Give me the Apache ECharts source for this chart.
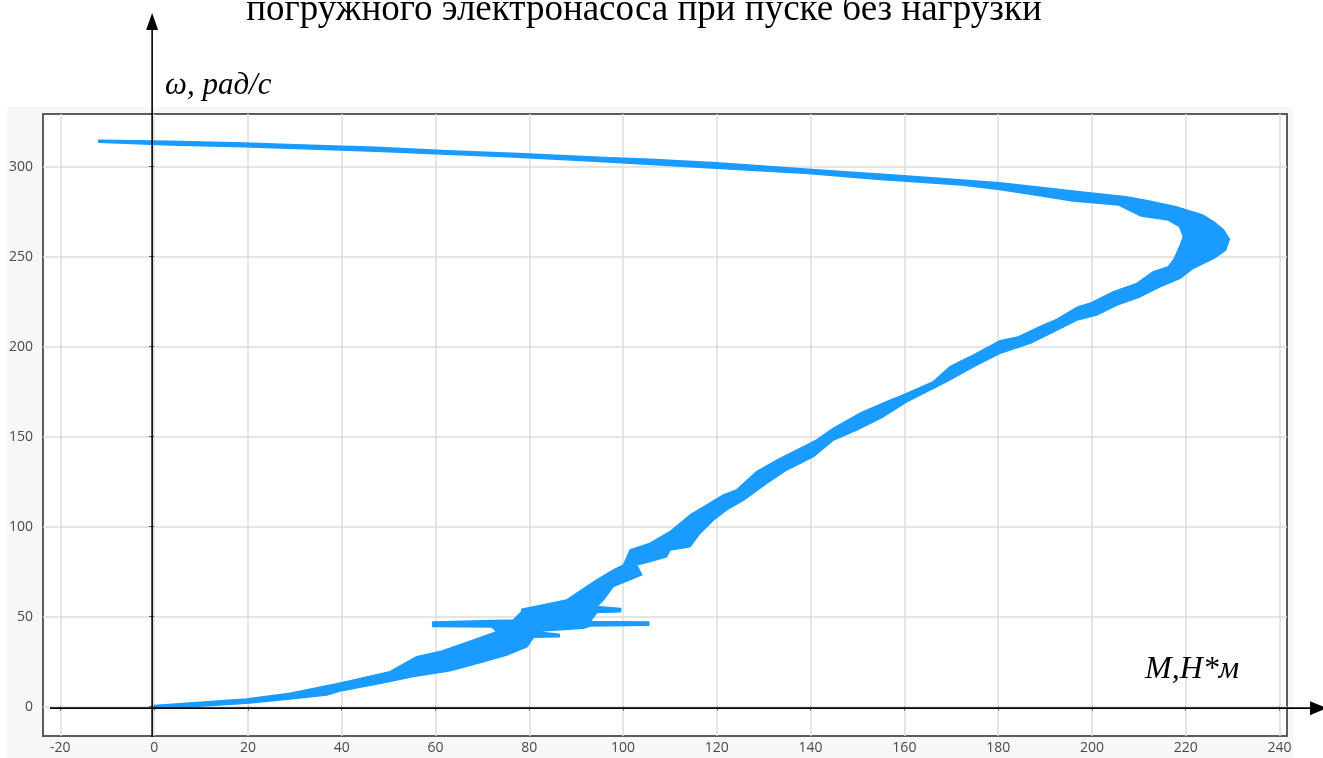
<!DOCTYPE html>
<html>
<head>
<meta charset="utf-8">
<script src="https://cdn.jsdelivr.net/npm/echarts@6/dist/echarts.min.js"></script>
<style>
  html, body { margin: 0; padding: 0; background: #ffffff; }
  #chart { width: 1323px; height: 758px; }
</style>
</head>
<body>
<div id="chart"></div>
<script>
// Mechanical characteristic of the submersible pump motor on a no-load start:
// torque M (N·m) against angular speed ω (rad/s). The simulated torque
// oscillates quickly, so the trace is stored as the two edges of its band.

// Inner edge of the band (towards the open side of the curve), from start to end
const innerM = [0, 19.7, 29, 40, 50.3, 56, 61, 68.1, 73.1, 72, 59.4, 59.4, 76.6, 78.4, 78.4, 88,
  94.4, 97.9, 100.1, 101.5, 105.8, 110, 114.3, 117.8, 121.4, 124.2, 128.5, 132.8, 138.5, 141.3,
  144.9, 150.5, 156.2, 160.5, 166.2, 169.7, 174, 180.4, 184, 188.9, 192.5, 196.8, 199.6, 204.6,
  209.6, 213.1, 216.3, 217.4, 217.9, 218.7, 219.5, 218.7, 216.3, 210.5, 205.7, 195.9, 189.3,
  180.3, 172.2, 154.2, 139.5, 119.9, 96, 77.7, 62.5, 47.3, 33.5, 19.1, 3.5, -11.8];
const innerW = [0.6, 4.3, 7.4, 13.3, 19.4, 27.8, 30.6, 37.1, 41.7, 44.3, 44.6, 47.0, 48.2, 52.8, 54.2, 59.3,
  70.4, 75.9, 78.7, 87, 90.8, 97.2, 106.5, 112, 117.6, 120.4, 130.6, 137, 144.4, 148.2,
  154.7, 163, 169.4, 174.1, 180.6, 188.9, 194.4, 203.3, 205.2, 211.1, 215.2, 221.9, 224.1, 230.6,
  235.2, 241.7, 244.4, 248.2, 250.9, 255.6, 261.1, 266.7, 270.4, 272.6, 278.7, 280.9, 283.7,
  287.4, 289.8, 293, 296.3, 299.1, 302.8, 305.2, 306.9, 308.6, 309.8, 311.1, 312.1, 313.6];

// Outer edge of the band, from start to end
const outerM = [0, 6.2, 19.7, 29, 36.8, 40, 48.9, 55.3, 63.1, 70.2, 75.2, 79.5, 80.9, 86.4, 86.4, 80.9,
  91.5, 93, 105.5, 105.5, 93, 94.4, 99.5, 99.5, 94.4, 95.8, 97.9, 104, 102.9, 105.8, 109.3, 110,
  114.3, 116.4, 119.3, 122.1, 125.7, 130.6, 134.9, 140.6, 144.9, 149.8, 155.5, 160.5, 169, 175.4,
  180.4, 186.8, 191.8, 196.8, 201, 205.3, 210.3, 214.5, 218.8, 221.6, 226, 228.5, 229.3, 228.1,
  226, 223.6, 217.9, 212.2, 207.3, 198.3, 180.3, 159.9, 139.5, 119.9, 105.8, 96, 77.7, 62.5,
  47.3, 33.5, 19.1, 3.5, -11.8];
const outerW = [-0.6, -0.3, 1.9, 4.3, 6.5, 8.9, 13.3, 16.7, 20, 25, 28.7, 33.3, 38.5, 38.8, 40.2, 41.7,
  43.5, 44.8, 45.2, 47.0, 47.3, 52.3, 52.8, 54.6, 55.6, 59.3, 66.7, 73.2, 78.7, 80.6, 83.3, 87,
  88.9, 96.3, 103.7, 109.3, 114.8, 124.1, 131.5, 138.9, 148.2, 153.7, 161.1, 169.4, 180.6, 189.8,
  196.3, 201.9, 208.3, 214.8, 217.6, 223.2, 227.8, 233.3, 238, 243.6, 249.1, 253.7, 259.7, 264.8,
  269.4, 273.2, 277.8, 280.9, 283.3, 285.8, 291.1, 295, 298.6, 302.2, 304.1, 305.2, 307.4, 308.9,
  310.8, 311.9, 313.2, 314.1, 314.7];

// Tick labels
const xTicks = [-20, 0, 20, 40, 60, 80, 100, 120, 140, 160, 180, 200, 220, 240];
const yTicks = [0, 50, 100, 150, 200, 250, 300];

// Texts
const titleText = 'погружного электронасоса при пуске без нагрузки';
const yName = 'ω, рад/с';
const xName = 'M,H*м';

// Closed outline: inner edge forward, outer edge back
const outline = innerM.map((m, i) => [m, innerW[i]])
  .concat(outerM.map((m, i) => [m, outerW[i]]).reverse());

const chart = echarts.init(document.getElementById('chart'), null, { renderer: 'canvas' });

const BLUE = '#1a9bff';
const GRID_LINE = '#dcdcdc';
const LABEL = { color: '#4a4a4a', fontSize: 14, fontFamily: 'Open Sans' };

chart.setOption({
  animation: false,
  backgroundColor: '#ffffff',
  grid: {
    show: true,
    left: 43, right: 36, top: 114, bottom: 22,
    backgroundColor: '#ffffff',
    borderColor: '#5c5c5c',
    borderWidth: 2
  },
  xAxis: {
    type: 'value',
    min: -23.7, max: 241.6,
    axisLine: { show: false },
    axisTick: { show: true, customValues: xTicks, length: 4, lineStyle: { color: '#5c5c5c' } },
    axisLabel: Object.assign({ customValues: xTicks, margin: 5 }, LABEL),
    splitLine: { show: true, lineStyle: { color: GRID_LINE, width: 1.5 } }
  },
  yAxis: {
    type: 'value',
    min: -16.3, max: 329.3,
    axisLine: { show: false },
    axisTick: { show: true, customValues: yTicks, length: 5, lineStyle: { color: '#5c5c5c' } },
    axisLabel: Object.assign({ customValues: yTicks, margin: 10 }, LABEL),
    splitLine: { show: true, lineStyle: { color: GRID_LINE, width: 1.5 } }
  },
  series: [{
    type: 'custom',
    coordinateSystem: 'cartesian2d',
    data: outline,
    encode: { x: 0, y: 1 },
    z: 5,
    renderItem: function (params, api) {
      if (params.dataIndexInside !== 0) return null;
      const pts = [];
      for (let i = 0; i < params.dataInsideLength; i++) {
        pts.push(api.coord([api.value(0, i), api.value(1, i)]));
      }
      return {
        type: 'polygon',
        shape: { points: pts },
        style: { fill: BLUE, stroke: BLUE, lineWidth: 1.5, lineJoin: 'round' }
      };
    }
  }]
});

// Hand-drawn axes with arrows through the origin, plus captions
const x0 = chart.convertToPixel({ xAxisIndex: 0 }, 0) - 2;
const y0 = chart.convertToPixel({ yAxisIndex: 0 }, 0) + 1.5;
const INK = '#000000';
const serif = 'Liberation Serif';

chart.setOption({
  graphic: [
    { type: 'rect', z: -100, silent: true,
      shape: { x: 7, y: 107, width: 1286, height: 651 },
      style: { fill: '#f7f7f7' } },
    { type: 'text', z: 100, silent: true, x: 644, y: 10,
      style: { text: titleText, fill: INK, font: '37px "' + serif + '"',
               align: 'center', verticalAlign: 'middle' } },
    { type: 'text', z: 100, silent: true, x: 165, y: 86,
      style: { text: yName, fill: INK, font: 'italic 31px "' + serif + '"',
               align: 'left', verticalAlign: 'middle' } },
    { type: 'text', z: 100, silent: true, x: 1145, y: 670,
      style: { text: xName, fill: INK, font: 'italic 32px "' + serif + '"',
               align: 'left', verticalAlign: 'middle' } },
    { type: 'line', z: 100, silent: true,
      shape: { x1: x0, y1: 737, x2: x0, y2: 27 },
      style: { stroke: INK, lineWidth: 1.6 } },
    { type: 'polygon', z: 100, silent: true,
      shape: { points: [[x0, 13], [x0 - 6, 30], [x0 + 6, 30]] },
      style: { fill: INK } },
    { type: 'line', z: 100, silent: true,
      shape: { x1: 50, y1: y0, x2: 1312, y2: y0 },
      style: { stroke: INK, lineWidth: 1.6 } },
    { type: 'polygon', z: 100, silent: true,
      shape: { points: [[1327, y0], [1310, y0 - 7], [1310, y0 + 7]] },
      style: { fill: INK } }
  ]
});
</script>
</body>
</html>
